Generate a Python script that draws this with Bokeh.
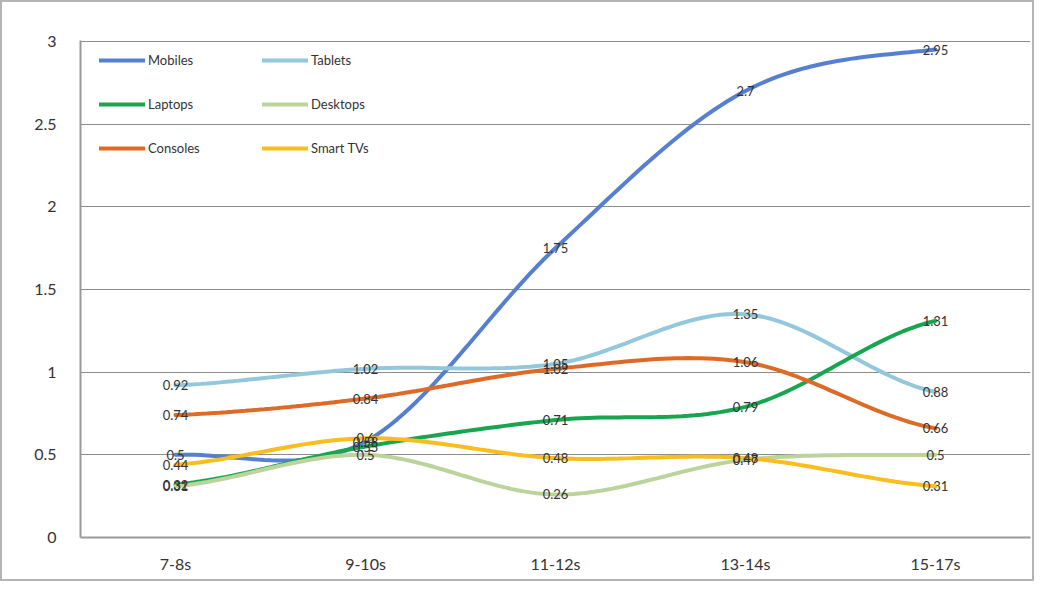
import numpy as np
from bokeh.plotting import figure
from bokeh.models import FixedTicker, Legend, LegendItem, ColumnDataSource
from bokeh.core.properties import value
from bokeh.embed import file_html
from bokeh.resources import INLINE

categories = ["7-8s", "9-10s", "11-12s", "13-14s", "15-17s"]
mobiles = [0.5, 0.58, 1.75, 2.7, 2.95]
tablets = [0.92, 1.02, 1.05, 1.35, 0.88]
laptops = [0.32, 0.55, 0.71, 0.79, 1.31]
desktops = [0.31, 0.5, 0.26, 0.47, 0.5]
consoles = [0.74, 0.84, 1.02, 1.06, 0.66]
smart_tvs = [0.44, 0.6, 0.48, 0.48, 0.31]

series = [
    ("Mobiles", mobiles, "#5680CF"),
    ("Tablets", tablets, "#93C8DC"),
    ("Laptops", laptops, "#17A54F"),
    ("Desktops", desktops, "#BDD39C"),
    ("Consoles", consoles, "#DD6A26"),
    ("Smart TVs", smart_tvs, "#FABD1E"),
]

FONT = "Lato"

def smooth(xs, ys, n=30):
    xs = np.asarray(xs, float)
    ys = np.asarray(ys, float)
    px = np.concatenate([[2 * xs[0] - xs[1]], xs, [2 * xs[-1] - xs[-2]]])
    py = np.concatenate([[ys[0]], ys, [ys[-1]]])
    ox, oy = [], []
    for i in range(1, len(px) - 2):
        p0x, p1x, p2x, p3x = px[i - 1], px[i], px[i + 1], px[i + 2]
        p0y, p1y, p2y, p3y = py[i - 1], py[i], py[i + 1], py[i + 2]
        if i == 1:
            p0x, p0y = p1x - (p2x - p1x), p1y
        if i == len(px) - 3:
            p3x, p3y = p2x + (p2x - p1x), p2y
        c1x = p1x + (p2x - p0x) / 6
        c1y = p1y + (p2y - p0y) / 6
        c2x = p2x - (p3x - p1x) / 6
        c2y = p2y - (p3y - p1y) / 6
        t = np.linspace(0, 1, n, endpoint=(i == len(px) - 3))
        b0 = (1 - t) ** 3
        b1 = 3 * (1 - t) ** 2 * t
        b2 = 3 * (1 - t) * t ** 2
        b3 = t ** 3
        ox.extend(b0 * p1x + b1 * c1x + b2 * c2x + b3 * p2x)
        oy.extend(b0 * p1y + b1 * c1y + b2 * c2y + b3 * p2y)
    return ox, oy

p = figure(width=1034, height=581, output_backend="svg", toolbar_location=None,
           x_range=(-0.5, 4.5), y_range=(0, 3.005),
           min_border_left=78, min_border_right=6, min_border_top=38, min_border_bottom=46)
p.styles = {"border": "2px solid #b4b4b4", "box-sizing": "border-box"}
p.outline_line_color = None
p.background_fill_color = "white"

xs = list(range(len(categories)))
items = {}
for name, vals, color in series:
    sx, sy = smooth(xs, vals)
    r = p.line(sx, sy, line_color=color, line_width=4, line_cap="round")
    items[name] = LegendItem(label=name, renderers=[r])

for name, vals, color in series:
    src = ColumnDataSource(dict(x=xs, y=vals, t=[str(v) for v in vals]))
    p.text(x="x", y="y", text="t", source=src, text_align="center", text_baseline="middle",
           text_font=value(FONT), text_font_size="13px", text_color="#333333")

p.xaxis.ticker = FixedTicker(ticks=xs)
p.xaxis.major_label_overrides = {i: c for i, c in enumerate(categories)}
p.yaxis.ticker = FixedTicker(ticks=[0, 0.5, 1, 1.5, 2, 2.5, 3])
p.yaxis.major_label_overrides = {0: "0", 0.5: "0.5", 1: "1", 1.5: "1.5", 2: "2", 2.5: "2.5", 3: "3"}
for ax in (p.xaxis, p.yaxis):
    ax.major_tick_line_color = None
    ax.minor_tick_line_color = None
    ax.axis_line_color = "#9a9a9a"
    ax.axis_line_width = 2
    ax.major_label_text_font = FONT
    ax.major_label_text_font_size = "16px"
    ax.major_label_text_color = "#333333"
p.yaxis.major_label_standoff = 18
p.xaxis.major_label_standoff = 10
p.xgrid.grid_line_color = None
p.ygrid.grid_line_color = "#8c8c8c"
p.ygrid.grid_line_width = 1

order = ["Mobiles", "Laptops", "Consoles", "Tablets", "Desktops", "Smart TVs"]
legend = Legend(items=[items[n] for n in order], location=(19, 379), ncols=2, orientation="vertical",
                background_fill_alpha=0, border_line_color=None,
                label_text_font=FONT, label_text_font_size="13px", label_text_color="#333333",
                glyph_width=46, glyph_height=20, label_standoff=3, spacing=24,
                padding=8, margin=0, label_width=90)
p.add_layout(legend)

open("out.html", "w").write(file_html(p, INLINE))
